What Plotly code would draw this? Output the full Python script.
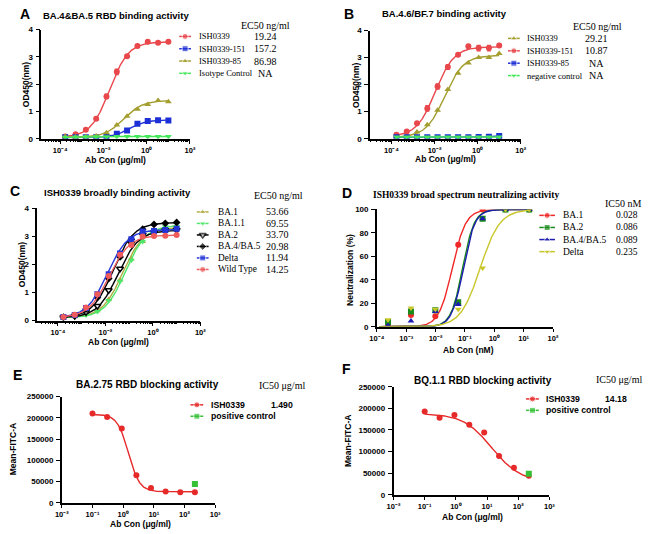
import numpy as np
import plotly.graph_objects as go

W, H = 650, 534

# ------------------------------------------------------------------ data
# Panels A-C: antibody concentration (ug/ml), 3-fold dilution from 10 ug/ml
conc_binding = [0.000169, 0.000508, 0.00152, 0.00457, 0.0137, 0.0412, 0.123, 0.370, 1.11, 3.33, 10.0]

# Panel A  (OD450)
A_names = ["ISH0339", "ISH0339-151", "ISH0339-85", "Isotype Control"]
A_ec50_text = ["19.24", "157.2", "86.98", "NA"]
A_ISH0339 = [0.08, 0.16, 0.33, 0.73, 1.55, 2.45, 3.02, 3.40, 3.55, 3.52, 3.55]
A_ISH0339_err = [0.02, 0.02, 0.03, 0.05, 0.08, 0.10, 0.04, 0.03, 0.03, 0.03, 0.02]
A_ISH0339_151 = [0.05, 0.05, 0.05, 0.05, 0.07, 0.18, 0.30, 0.55, 0.65, 0.68, 0.67]
A_ISH0339_85 = [0.08, 0.06, 0.07, 0.10, 0.22, 0.50, 0.82, 1.08, 1.25, 1.40, 1.35]
A_isotype = [0.05, 0.06, 0.07, 0.07, 0.07, 0.08, 0.08, 0.08, 0.08, 0.08, 0.08]
# fitted 4PL parameters (bottom, top, EC50 ug/ml, hill)
A_fit = [(0.05, 3.55, 0.01924, 1.0), (0.04, 0.69, 0.1572, 1.1), (0.05, 1.40, 0.08698, 1.0), None]

# Panel B
B_names = ["ISH0339", "ISH0339-151", "ISH0339-85", "negative control"]
B_ec50_text = ["29.21", "10.87", "NA", "NA"]
B_ISH0339 = [0.08, 0.12, 0.25, 0.52, 1.05, 1.82, 2.42, 2.80, 3.00, 3.00, 3.15]
B_ISH0339_151 = [0.15, 0.27, 0.57, 1.12, 1.93, 2.65, 3.10, 3.42, 3.35, 3.35, 3.45]
B_ISH0339_151_err = [0.02, 0.03, 0.04, 0.10, 0.10, 0.09, 0.05, 0.06, 0.10, 0.10, 0.05]
B_ISH0339_85 = [0.05, 0.05, 0.05, 0.05, 0.05, 0.05, 0.05, 0.05, 0.06, 0.07, 0.10]
B_negative = [0.06, 0.06, 0.06, 0.06, 0.06, 0.06, 0.06, 0.06, 0.06, 0.06, 0.06]
B_fit = [(0.05, 3.08, 0.02921, 1.0), (0.08, 3.40, 0.01087, 1.0), None, None]

# Panel C
C_names = ["BA.1", "BA.1.1", "BA.2", "BA.4/BA.5", "Delta", "Wild Type"]
C_ec50_text = ["53.66", "69.55", "33.70", "20.98", "11.94", "14.25"]
C_BA1 = [0.10, 0.14, 0.22, 0.35, 0.75, 1.45, 2.20, 2.82, 3.10, 3.28, 3.30]
C_BA11 = [0.10, 0.13, 0.20, 0.32, 0.72, 1.40, 2.15, 2.82, 3.15, 3.35, 3.36]
C_BA2 = [0.12, 0.16, 0.30, 0.52, 1.08, 1.85, 2.76, 3.06, 3.15, 3.22, 3.23]
C_BA45 = [0.12, 0.18, 0.41, 0.82, 1.50, 2.27, 2.90, 3.26, 3.43, 3.47, 3.50]
C_Delta = [0.13, 0.20, 0.45, 0.94, 1.65, 2.39, 2.90, 3.18, 3.20, 3.23, 3.28]
C_WT = [0.13, 0.21, 0.47, 0.94, 1.59, 2.35, 2.70, 3.00, 3.02, 3.03, 3.05]
C_fit = [(0.10, 3.32, 0.05366, 1.0), (0.10, 3.40, 0.06955, 1.0), (0.10, 3.22, 0.03370, 1.0),
         (0.10, 3.50, 0.02098, 1.0), (0.10, 3.25, 0.01194, 1.0), (0.10, 3.05, 0.01425, 1.0)]

# Panel D  (neutralization %, conc in nM)
D_conc = [0.00024, 0.00145, 0.0098, 0.059, 0.40, 2.4, 15.5]
D_names = ["BA.1", "BA.2", "BA.4/BA.5", "Delta"]
D_ic50_text = ["0.028", "0.086", "0.089", "0.235"]
D_BA1 = [1.5, 10, 9, 70, 100, 100, 100]
D_BA2 = [4, 13, 14, 21, 92, 100, 100]
D_BA45 = [1, 5, 13, 19, 92, 100, 100]
D_Delta = [6, 16, 15, 15, 50, 100, 100]
D_fit = [(0, 100, 0.037, 1.9), (0, 100, 0.083, 2.2), (0, 100, 0.088, 2.2), (0, 100, 0.33, 1.3)]

# Panels E/F  (Mean-FITC-A, conc ug/ml)
EF_conc = [0.1, 0.3, 0.9, 2.7, 8.1, 24.3, 72.9, 218.7]
EF_pos_conc = [218.7]
E_ISH0339 = [210000, 202000, 175000, 65000, 34500, 26500, 25000, 25000]
E_positive = [44000]
E_ic50_text = "1.490"
E_fit = (208000, 26000, 1.49, 2.4)
F_ISH0339 = [193000, 178500, 184500, 162000, 144000, 90000, 62500, 44000]
F_positive = [49000]
F_ic50_text = "14.18"
F_fit = (188000, 30000, 14.18, 0.95)

# ------------------------------------------------------------------ styles
SANS = "Liberation Sans, Arial"
SERIF = "Liberation Serif, Times New Roman"
RED, BLUE, OLIVE, GREEN = "#e8474b", "#1d2fd6", "#a39e2e", "#45e85a"
SUP = str.maketrans("-0123456789", "⁻⁰¹²³⁴⁵⁶⁷⁸⁹")

fig = go.Figure()


def fourpl(x, low, high, ec50, hill):
    x = np.asarray(x, dtype=float)
    return low + (high - low) / (1.0 + (ec50 / x) ** hill)


def dom(px0, px1, py0, py1):
    return [px0 / W, px1 / W], [1 - py1 / H, 1 - py0 / H]


def sup_label(d):
    return "10" + str(d).translate(SUP)


def set_axes(n, px, py, xr, yr, xmaj, xminor, ytv, ytt):
    xd, yd = dom(px[0], px[1], py[0], py[1])
    xs = "" if n == 1 else str(n)
    tickfont = dict(family=SANS, size=8, color="black", weight="bold")
    xa = dict(type="log", domain=xd, range=list(xr), anchor="y" + xs,
              tickmode="array", tickvals=[10.0 ** d for d in xmaj],
              ticktext=[sup_label(d) for d in xmaj],
              ticks="outside", ticklen=3.5, tickwidth=1.2, tickcolor="black",
              showline=True, linewidth=1.5, linecolor="black",
              showgrid=False, zeroline=False, tickfont=dict(tickfont, size=7.5),
              ticklabelstandoff=0)
    if xminor:
        xa["minor"] = dict(tickmode="array", tickvals=xminor, ticks="outside", ticklen=2,
                           tickwidth=0.8, tickcolor="black", showgrid=False)
    ya = dict(domain=yd, range=list(yr), anchor="x" + xs,
              tickmode="array", tickvals=ytv, ticktext=ytt,
              ticks="outside", ticklen=4, tickwidth=1.2, tickcolor="black",
              showline=True, linewidth=1.5, linecolor="black",
              showgrid=False, zeroline=False, tickfont=tickfont, ticklabelstandoff=1)
    fig.layout["xaxis" + xs] = xa
    fig.layout["yaxis" + xs] = ya


def minor_ticks(lo, hi, skip_even=True):
    vals = []
    for d in range(int(np.floor(lo)), int(np.ceil(hi)) + 1):
        for k in range(1, 10):
            v = k * 10.0 ** d
            if k == 1 and skip_even and d % 2 == 0:
                continue
            if lo <= np.log10(v) <= hi:
                vals.append(v)
    return vals


def add_series(n, x, y, color, symbol, fit, err=None, size=6, curve_x=None,
               open_marker=False, connect=False, lw=1.4):
    xs = "" if n == 1 else str(n)
    if fit is not None:
        cx0, cx1 = curve_x if curve_x else (min(x), max(x))
        xx = np.logspace(np.log10(cx0), np.log10(cx1), 300)
        fig.add_trace(go.Scatter(x=xx, y=fourpl(xx, *fit), mode="lines",
                                 line=dict(color=color, width=lw), xaxis="x" + xs, yaxis="y" + xs,
                                 showlegend=False, hoverinfo="skip"))
    mk = dict(color=color, symbol=symbol, size=size)
    if open_marker:
        mk = dict(color="white", symbol=symbol, size=size, line=dict(color=color, width=1.5))
    tr = go.Scatter(x=x, y=y, mode="lines+markers" if connect else "markers",
                    marker=mk, line=dict(color=color, width=lw),
                    xaxis="x" + xs, yaxis="y" + xs, showlegend=False)
    if err is not None:
        tr.error_y = dict(type="data", array=err, thickness=1.2, width=2, color=color)
    fig.add_trace(tr)


annotations = []


def ann(text, x, y, size, family=SANS, bold=False, xanchor="center", yanchor="middle", angle=0):
    annotations.append(dict(text=text, x=x / W, y=1 - y / H, xref="paper", yref="paper",
                            xanchor=xanchor, yanchor=yanchor, showarrow=False, textangle=angle,
                            font=dict(family=family, size=size, color="black",
                                      weight="bold" if bold else "normal")))


# legend keys are drawn on an invisible full-figure overlay axis (pixel units)
def legend(keys, key_x, half, rows_y, text_x, names, font_size, family, bold=False,
           values=None, value_x=None, value_size=None, size=6):
    for (color, symbol, opn), yy, name in zip(keys, rows_y, names):
        mk = dict(color=color, symbol=symbol, size=[0, size, 0])
        if opn:
            mk = dict(color="white", symbol=symbol, size=[0, size, 0],
                      line=dict(color=color, width=1.5))
        fig.add_trace(go.Scatter(x=[key_x - half, key_x, key_x + half], y=[yy, yy, yy],
                                 mode="lines+markers", line=dict(color=color, width=1.5),
                                 marker=mk, xaxis="x7", yaxis="y7",
                                 showlegend=False, hoverinfo="skip"))
        ann(name, text_x, yy, font_size, family=family, bold=bold, xanchor="left")
    if values is not None:
        for v, yy in zip(values, rows_y):
            ann(v, value_x, yy, value_size or font_size, family=family, bold=bold)


# ------------------------------------------------------------------ Panel A
set_axes(1, (34, 186), (26, 137), (-4.88, 2), (0, 4), [-4, -2, 0, 2],
         minor_ticks(-4.88, 2), [0, 1, 2, 3, 4], ["0", "1", "2", "3", "4"])
A_style = [(RED, "circle", False), (BLUE, "square", False), (OLIVE, "triangle-up", False),
           (GREEN, "triangle-down", False)]
A_data = [A_ISH0339, A_ISH0339_151, A_ISH0339_85, A_isotype]
for i, (ys, st, ft) in enumerate(zip(A_data, A_style, A_fit)):
    add_series(1, conc_binding, ys, st[0], st[1], ft,
               err=A_ISH0339_err if i == 0 else None, connect=ft is None)
ann("A", 17, 10, 14, bold=True)
ann("BA.4&BA.5 RBD binding activity", 110, 11.5, 9.5, bold=True)
ann("OD450(nm)", 18, 82, 8.5, bold=True, angle=-90)
ann("Ab Con (μg/ml)", 110, 158.5, 8.5, bold=True)
ann("EC50 ng/ml", 263, 21.5, 10, family=SERIF)
legend(A_style, 181, 6, [33, 45.5, 58, 70.5], 193, A_names, 8.5, SERIF,
       values=A_ec50_text, value_x=263, value_size=10)

# ------------------------------------------------------------------ Panel B
set_axes(2, (370, 524), (27, 137), (-5, 2), (0, 4), [-4, -2, 0, 2],
         minor_ticks(-5, 2), [0, 1, 2, 3, 4], ["0", "1", "2", "3", "4"])
B_style = [(OLIVE, "triangle-up", False), (RED, "circle", False), (BLUE, "square", False),
           (GREEN, "triangle-down", False)]
B_data = [B_ISH0339, B_ISH0339_151, B_ISH0339_85, B_negative]
for i, (ys, st, ft) in enumerate(zip(B_data, B_style, B_fit)):
    add_series(2, conc_binding, ys, st[0], st[1], ft,
               err=B_ISH0339_151_err if i == 1 else None, connect=ft is None)
ann("B", 348, 10.5, 14, bold=True)
ann("BA.4.6/BF.7 binding activity", 446, 9.5, 9.5, bold=True)
ann("OD450(nm)", 355, 82, 8.5, bold=True, angle=-90)
ann("Ab Con (μg/ml)", 447, 158, 8.5, bold=True)
ann("EC50 ng/ml", 602, 22.5, 10, family=SERIF)
legend(B_style, 517, 6, [35, 47.6, 60.2, 72.8], 528, B_names, 8.5, SERIF,
       values=B_ec50_text, value_x=601, value_size=10)

# ------------------------------------------------------------------ Panel C
set_axes(3, (30, 196.6), (208, 322), (-4.87, 2), (0, 4), [-4, -2, 0, 2],
         minor_ticks(-4.87, 2), [0, 1, 2, 3, 4], ["0", "1", "2", "3", "4"])
C_style = [("#b2ab42", "triangle-up", False), ("#4fe76b", "triangle-down", False),
           ("black", "triangle-down", True), ("black", "diamond", False),
           ("#2536d8", "square", False), ("#ef5b5b", "circle", False)]
C_data = [C_BA1, C_BA11, C_BA2, C_BA45, C_Delta, C_WT]
for ys, st, ft in zip(C_data, C_style, C_fit):
    add_series(3, conc_binding, ys, st[0], st[1], ft, open_marker=st[2])
ann("C", 7, 190.5, 14, bold=True)
ann("ISH0339 broadly binding activity", 111.5, 191.5, 9.5, bold=True)
ann("OD450(nm)", 14, 265, 8.5, bold=True, angle=-90)
ann("Ab Con (μg/ml)", 113, 344, 8.5, bold=True)
ann("EC50 ng/ml", 276, 195, 10, family=SERIF)
legend(C_style, 199, 6, [211.5, 223.2, 234.9, 246.6, 258.3, 270], 213, C_names, 9.3, SERIF,
       values=C_ec50_text, value_x=275, value_size=10)

# ------------------------------------------------------------------ Panel D
set_axes(4, (377, 557), (209, 328.3), (-4, 2), (0, 100), [-4, -3, -2, -1, 0, 1, 2],
         None, [0, 20, 40, 60, 80, 100], ["0", "20", "40", "60", "80", "100"])
D_style = [("#f02828", "circle", False), ("#1a8a1a", "square", False),
           ("#1c1cb0", "triangle-up", False), ("#c9c62a", "triangle-down", False)]
D_data = [D_BA1, D_BA2, D_BA45, D_Delta]
for ys, st, ft in zip(D_data, D_style, D_fit):
    add_series(4, D_conc, ys, st[0], st[1], ft, curve_x=(1.2e-4, max(D_conc)))
ann("D", 346, 192, 14, bold=True)
ann("ISH0339 broad spectrum neutralizing activity", 468, 194, 9.5, family=SERIF, bold=True)
ann("Neutralization (%)", 350, 270, 8.5, bold=True, angle=-90)
ann("Ab Con (nM)", 471, 351.5, 8.5, bold=True)
ann("IC50 nM", 629, 203, 10, family=SERIF)
legend(D_style, 551, 8, [215, 227.3, 239.6, 251.9], 565, D_names, 9.5, SERIF,
       values=D_ic50_text, value_x=633, value_size=9.5)

# ------------------------------------------------------------------ Panel E
EF_ytv = [0, 50000, 100000, 150000, 200000, 250000]
EF_ytt = ["0", "50000", "100000", "150000", "200000", "250000"]
set_axes(5, (55, 211.7), (399.3, 507.3), (-2, 3), (0, 250000), [-2, -1, 0, 1, 2, 3],
         None, EF_ytv, EF_ytt)
add_series(5, EF_conc, E_ISH0339, "#e62a2a", "circle", E_fit)
add_series(5, EF_pos_conc, E_positive, "#35c035", "square", None)
ann("E", 10, 377.5, 14, bold=True)
ann("BA.2.75 RBD blocking activity", 143, 387.5, 10, bold=True)
ann("Mean-FITC-A", 5, 453, 8.5, bold=True, angle=-90)
ann("Ab Con (μg/ml)", 135, 528.5, 8.5, bold=True)
ann("IC50 μg/ml", 280, 388, 10, family=SERIF)
legend([("#e62a2a", "circle", False), ("#35c035", "square", False)], 193, 6.5,
       [407.7, 419.3], 205, ["ISH0339", "positive control"], 8.7, SANS, bold=True)
ann(E_ic50_text, 280, 407.7, 8.7, bold=True)

# ------------------------------------------------------------------ Panel F
set_axes(6, (394, 553.3), (389.3, 499.3), (-2, 3), (0, 250000), [-2, -1, 0, 1, 2, 3],
         None, EF_ytv, EF_ytt)
add_series(6, EF_conc, F_ISH0339, "#e62a2a", "circle", F_fit)
add_series(6, EF_pos_conc, F_positive, "#35c035", "square", None)
ann("F", 346, 371, 14, bold=True)
ann("BQ.1.1 RBD blocking activity", 485, 382.5, 10, bold=True)
ann("Mean-FITC-A", 347, 445, 8.5, bold=True, angle=-90)
ann("Ab Con (μg/ml)", 475, 522, 8.5, bold=True)
ann("IC50 μg/ml", 624, 382, 10, family=SERIF)
legend([("#e62a2a", "circle", False), ("#35c035", "square", False)], 536, 6.5,
       [401.7, 413.3], 548, ["ISH0339", "positive control"], 8.7, SANS, bold=True)
ann(F_ic50_text, 621, 401.7, 8.7, bold=True)

# overlay axis for legend keys (pixel units of the whole figure)
fig.layout["xaxis7"] = dict(domain=[0, 1], range=[0, W], anchor="y7", visible=False, fixedrange=True)
fig.layout["yaxis7"] = dict(domain=[0, 1], range=[H, 0], anchor="x7", visible=False, fixedrange=True)

fig.update_layout(width=W, height=H, margin=dict(l=0, r=0, t=0, b=0),
                  paper_bgcolor="white", plot_bgcolor="rgba(0,0,0,0)",
                  showlegend=False, annotations=annotations)

fig.write_html("out.html", config={"displayModeBar": False},
               post_script="document.body.style.margin='0';document.body.style.overflow='hidden';")
